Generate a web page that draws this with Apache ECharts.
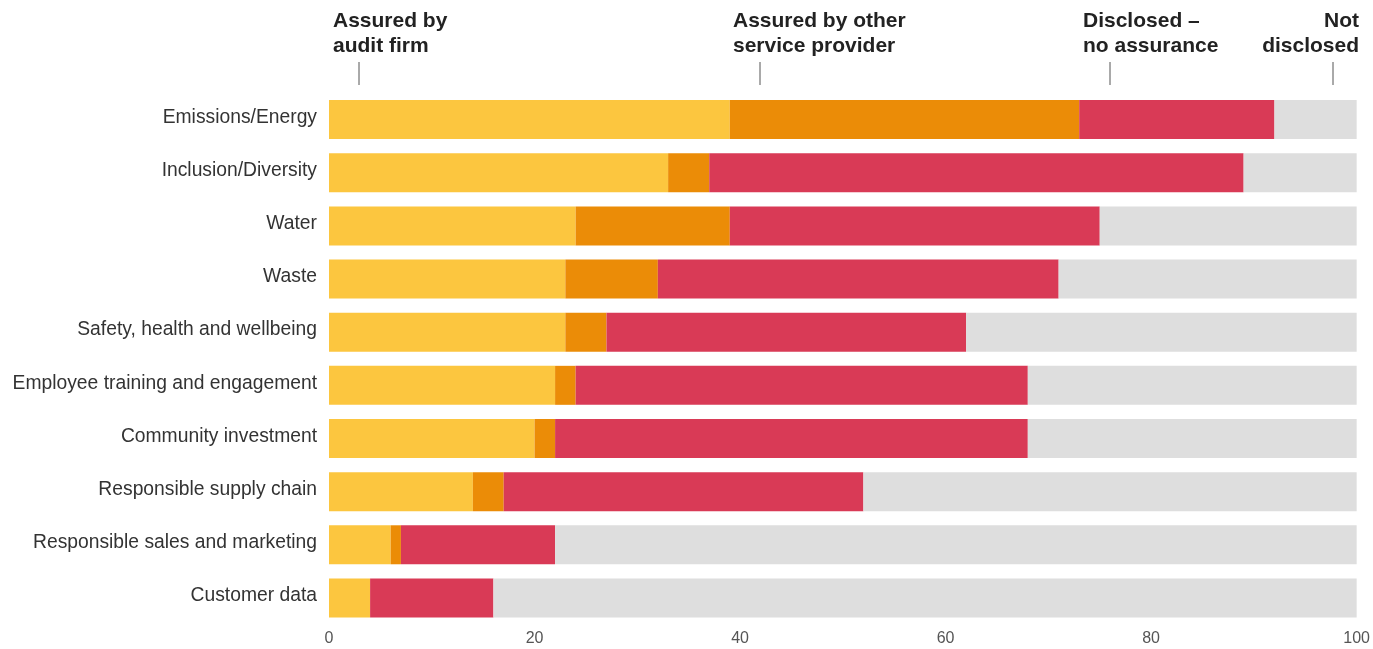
<!DOCTYPE html>
<html>
<head>
<meta charset="utf-8">
<script src="https://cdn.jsdelivr.net/npm/echarts@6/dist/echarts.min.js"></script>
<style>html,body{margin:0;padding:0;background:#fff}#c{width:1373px;height:649px}</style>
</head>
<body>
<div id="c"></div>
<script>
const categories = ["Emissions/Energy","Inclusion/Diversity","Water","Waste","Safety, health and wellbeing","Employee training and engagement","Community investment","Responsible supply chain","Responsible sales and marketing","Customer data"];
const auditFirm = [39,33,24,23,23,22,20,14,6,4];
const otherProvider = [34,4,15,9,4,2,2,3,1,0];
const noAssurance = [19,52,36,39,35,44,46,35,15,12];
const notDisclosed = [8,11,25,29,38,32,32,48,78,84];
const xTicks = [0,20,40,60,80,100];
const seriesNames = ["Assured by\naudit firm","Assured by other\nservice provider","Disclosed –\nno assurance","Not\ndisclosed"];
const colors = ["#FCC63F","#EB8C07","#D93A56","#DEDEDE"];

const chart = echarts.init(document.getElementById('c'));
const font = "'Liberation Sans', Arial, Helvetica, sans-serif";
const values = [auditFirm, otherProvider, noAssurance, notDisclosed];
const labelPos = [
  {x:333, tick:359, align:'left'},
  {x:733, tick:760, align:'left'},
  {x:1083, tick:1110, align:'left'},
  {x:1359, tick:1333, align:'right'}
];
const graphics = [];
seriesNames.forEach((n,i)=>{
  const p = labelPos[i];
  graphics.push({type:'text', x:p.x, y:9,
    style:{text:n, font:"bold 21px " + font, fill:'#222', align:p.align, verticalAlign:'top', lineHeight:25}});
  graphics.push({type:'line', shape:{x1:p.tick, y1:62, x2:p.tick, y2:85}, style:{stroke:'#555', lineWidth:1}});
});
chart.setOption({
  animation:false,
  grid:{left:329, right:13, top:93, bottom:24.5, containLabel:false},
  xAxis:{type:'value', min:0, max:100, interval:20,
    axisLine:{show:false}, axisTick:{show:false}, splitLine:{show:false},
    axisLabel:{color:'#555', fontSize:16, fontFamily:font, margin:6,
      formatter:(v)=> xTicks.includes(v) ? String(v) : ''}},
  yAxis:{type:'category', data:categories, inverse:true,
    axisLine:{show:false}, axisTick:{show:false},
    axisLabel:{margin:12, formatter:(v)=>'{a|' + v + '}',
      rich:{a:{color:'#333', fontSize:19.3, fontFamily:font, padding:[0,0,4,0]}}}},
  graphic: graphics,
  series: values.map((d,i)=>({
    type:'bar', stack:'total', name:seriesNames[i], data:d, barWidth:39,
    itemStyle:{color:colors[i]}
  }))
});
</script>
</body>
</html>
